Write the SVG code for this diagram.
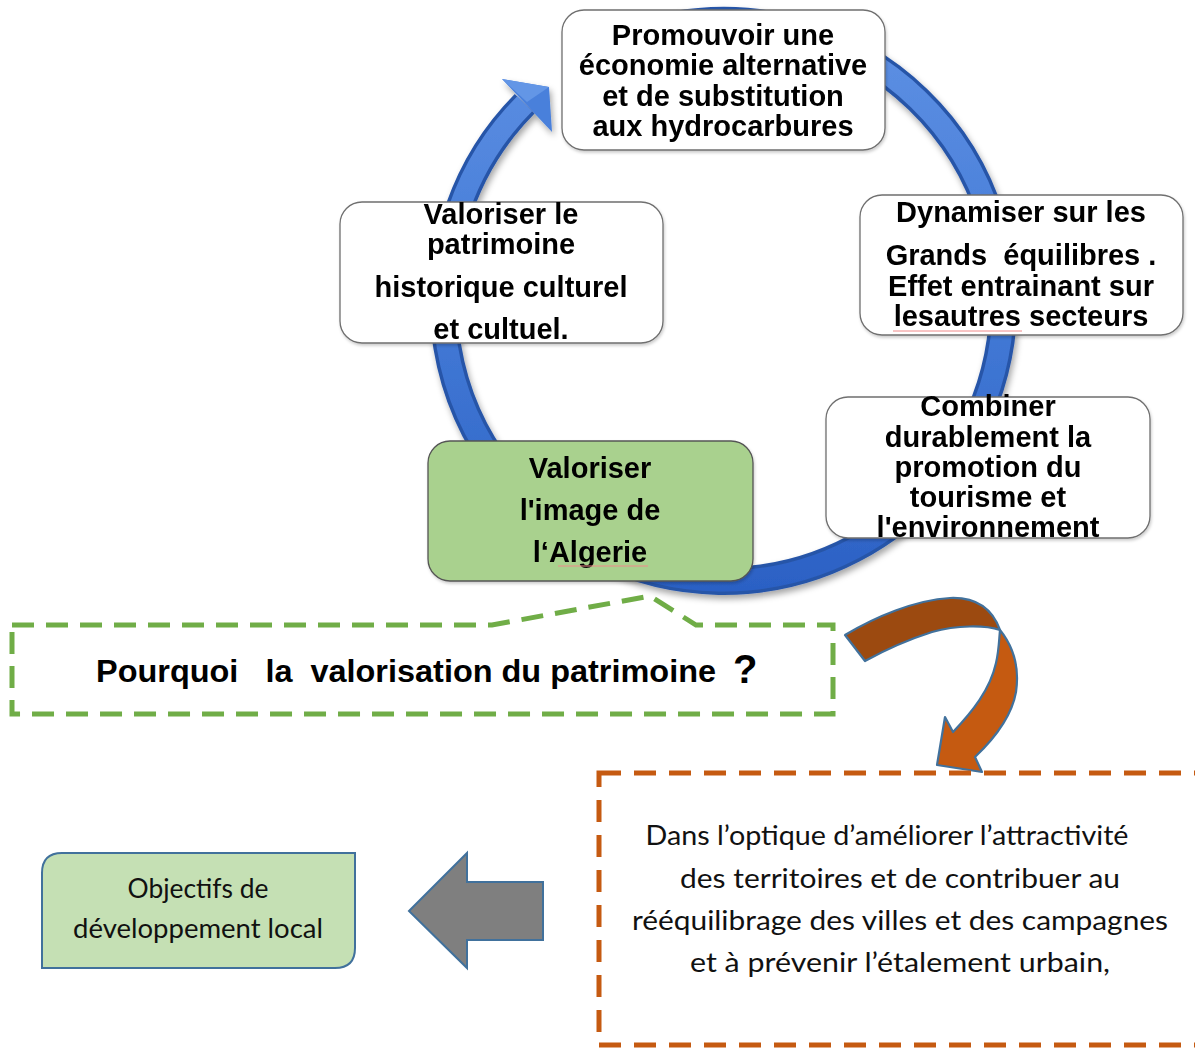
<svg xmlns="http://www.w3.org/2000/svg" width="1195" height="1048" viewBox="0 0 1195 1048">
<style>
.box{fill:#fff;stroke:#6f6f6f;stroke-width:1.3}
.bt{font-family:"Liberation Sans",Arial,sans-serif;font-weight:bold;font-size:29px;text-anchor:middle;fill:#000}
.ct{font-family:Lato,"Open Sans","Liberation Sans",sans-serif;font-size:27px;text-anchor:middle;fill:#111}
.sq{stroke:#f08a8a;stroke-width:1;fill:none}
</style>
<defs>
<linearGradient id="ringG" gradientUnits="userSpaceOnUse" x1="0" y1="20" x2="0" y2="600">
<stop offset="0" stop-color="#5f91e4"/>
<stop offset="0.5" stop-color="#437ad6"/>
<stop offset="1" stop-color="#2b60c4"/>
</linearGradient>
<filter id="sh" x="-10%" y="-10%" width="120%" height="125%">
<feDropShadow dx="2" dy="4" stdDeviation="3" flood-color="#000" flood-opacity="0.35"/>
</filter>
<filter id="bsh" x="-5%" y="-5%" width="110%" height="115%">
<feDropShadow dx="1" dy="2" stdDeviation="1.5" flood-color="#000" flood-opacity="0.2"/>
</filter>
</defs>

<g id="connectors">
<g id="cycle-arrow" filter="url(#sh)">
<path d="M674.55,25.24 A280,280 0 1 1 524.7,103.75" fill="none" stroke="#2855a8" stroke-width="28"/>
<path d="M674.55,25.24 A280,280 0 1 1 524.7,103.75" fill="none" stroke="url(#ringG)" stroke-width="21"/>
<polygon points="502,79 549,87 552,132" fill="#4a80db"/>
<polygon points="502,79 549,87 527,102" fill="#6396e6"/>
</g>
<g id="curved-arrow" stroke="#41719c" stroke-width="2.2" stroke-linejoin="round">
<path d="M845,635 C875,617 915,600 950,598 C975,597 992,608 1000,630 C985,625 957,625 932,632 C907,640 885,650 865,661 Z" fill="#9c4a10"/>
<path d="M1000,630 C1012,645 1020,665 1016,692 C1012,715 995,738 975,757 L982,772 L937,765 L945,717 L953,732 C972,712 990,690 996,663 C999,650 999,640 1000,630 Z" fill="#c55a11"/>
</g>
<g id="gray-arrow">
<polygon points="409,911 467,853 467,882 543,882 543,940 467,940 467,968" fill="#7f7f7f" stroke="#41719c" stroke-width="2"/>
</g>
</g>

<g id="node-promouvoir" filter="url(#bsh)">
<rect class="box" x="562" y="10" width="323" height="140" rx="22"/>
<text class="bt" x="723" y="45">Promouvoir une</text>
<text class="bt" x="723" y="75">économie alternative</text>
<text class="bt" x="723" y="106">et de substitution</text>
<text class="bt" x="723" y="136">aux hydrocarbures</text>
</g>

<g id="node-patrimoine" filter="url(#bsh)">
<rect class="box" x="340" y="202" width="323" height="141" rx="22"/>
<text class="bt" x="501" y="224">Valoriser le</text>
<text class="bt" x="501" y="254">patrimoine</text>
<text class="bt" x="501" y="297">historique culturel</text>
<text class="bt" x="501" y="339">et cultuel.</text>
</g>

<g id="node-dynamiser" filter="url(#bsh)">
<rect class="box" x="860" y="195" width="323" height="140" rx="22"/>
<text class="bt" x="1021" y="222">Dynamiser sur les</text>
<text class="bt" x="1021" y="265" xml:space="preserve">Grands  équilibres .</text>
<text class="bt" x="1021" y="296">Effet entrainant sur</text>
<text class="bt" x="1021" y="326">lesautres secteurs</text>
<path class="sq" d="M893,331 L1022,331"/>
</g>

<g id="node-combiner" filter="url(#bsh)">
<rect class="box" x="826" y="397" width="324" height="141" rx="22"/>
<text class="bt" x="988" y="416">Combiner</text>
<text class="bt" x="988" y="447">durablement la</text>
<text class="bt" x="988" y="477">promotion du</text>
<text class="bt" x="988" y="507">tourisme et</text>
<text class="bt" x="988" y="537">l'environnement</text>
</g>

<g id="node-image" filter="url(#bsh)">
<rect x="428" y="441" width="325" height="140" rx="22" fill="#a9d18e" stroke="#555" stroke-width="1.3"/>
<text class="bt" x="590" y="478">Valoriser</text>
<text class="bt" x="590" y="520">l'image de</text>
<text class="bt" x="590" y="562">l‘Algerie</text>
<path class="sq" d="M558,566 L648,566"/>
</g>

<g id="node-question">
<path d="M12,625 L492,625 L650,596 L696,625 L833,625 L833,714 L12,714 Z" fill="none" stroke="#70ad47" stroke-width="5" stroke-dasharray="22 12"/>
<text x="96" y="682" font-family="'Liberation Sans',Arial,sans-serif" font-weight="bold" font-size="32" textLength="620" lengthAdjust="spacingAndGlyphs" xml:space="preserve">Pourquoi   la  valorisation du patrimoine</text>
<text x="733" y="683" font-family="'Liberation Sans',Arial,sans-serif" font-weight="bold" font-size="40">?</text>
</g>

<g id="node-optique">
<rect x="599" y="773" width="610" height="272" fill="none" stroke="#c55a11" stroke-width="5" stroke-dasharray="22 13"/>
<text class="ct" x="887" y="845" textLength="483" lengthAdjust="spacingAndGlyphs">Dans l’optique d’améliorer l’attractivité</text>
<text class="ct" x="900" y="888" textLength="440" lengthAdjust="spacingAndGlyphs">des territoires et de contribuer au</text>
<text class="ct" x="900" y="930" textLength="536" lengthAdjust="spacingAndGlyphs">rééquilibrage des villes et des campagnes</text>
<text class="ct" x="900" y="972" textLength="420" lengthAdjust="spacingAndGlyphs">et à prévenir l’étalement urbain,</text>
</g>

<g id="node-objectifs">
<path d="M62,853 L355,853 L355,948 Q355,968 335,968 L42,968 L42,873 Q42,853 62,853 Z" fill="#c5e0b4" stroke="#41719c" stroke-width="2"/>
<text class="ct" x="198" y="898" textLength="141" lengthAdjust="spacingAndGlyphs">Objectifs de</text>
<text class="ct" x="198" y="938" textLength="250" lengthAdjust="spacingAndGlyphs">développement local</text>
</g>
</svg>
